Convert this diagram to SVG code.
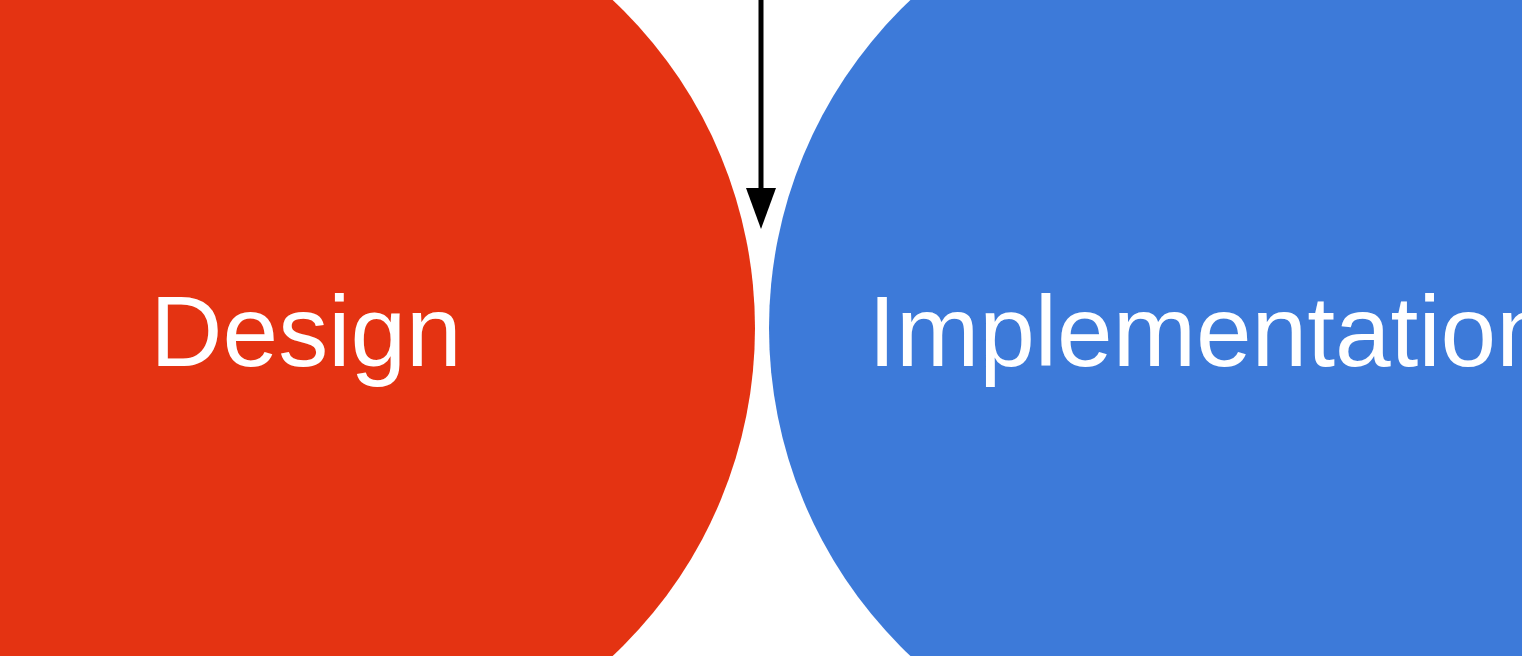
<svg xmlns="http://www.w3.org/2000/svg" width="1522" height="656" viewBox="0 0 1522 656">
<style>
.lbl{font-family:"Liberation Sans",Arial,sans-serif;font-size:100px;fill:#ffffff;text-anchor:middle}
</style>
<rect width="1522" height="656" fill="#ffffff"/>
<g id="design">
<circle cx="306" cy="328" r="449" fill="#E43312"/>
<text class="lbl" x="306" y="366">Design</text>
</g>
<g id="implementation">
<circle cx="1220" cy="328" r="451" fill="#3D7AD9"/>
<text class="lbl" x="1210" y="366">Implementation</text>
</g>
<g id="connectors">
<line x1="761" y1="0" x2="761" y2="192" stroke="#000" stroke-width="5"/>
<polygon points="746,188 776,188 761,229" fill="#000"/>
</g>
</svg>
